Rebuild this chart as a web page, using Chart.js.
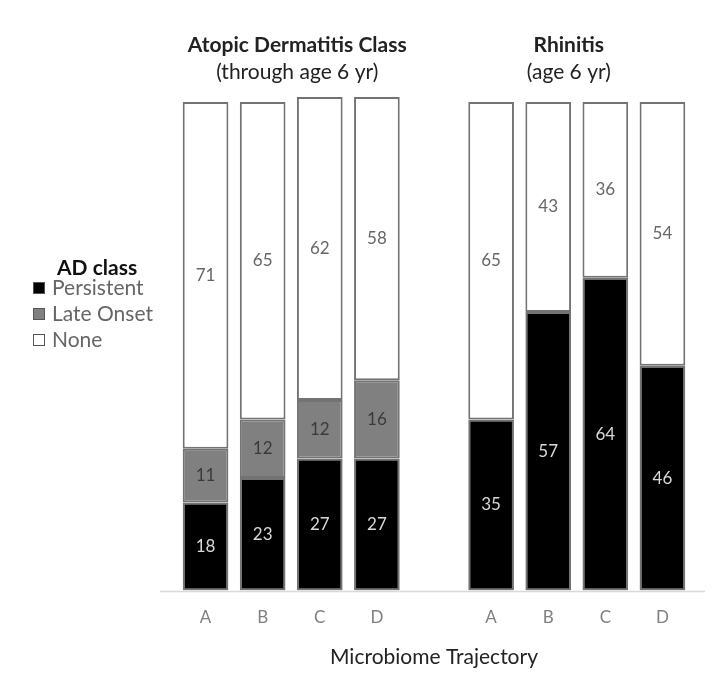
<!DOCTYPE html>
<html>
<head>
<meta charset="utf-8">
<script src="https://cdn.jsdelivr.net/npm/chart.js@4"></script>
<style>
  html, body { margin: 0; padding: 0; background: #fff; }
  #wrap { width: 723px; height: 696px; }
</style>
</head>
<body>
<div id="wrap"><canvas id="chart"></canvas></div>
<script>
// slot 4 is an empty spacer between the two panels
var categories = ['A', 'B', 'C', 'D', '', 'A', 'B', 'C', 'D'];
var persistent = [18, 23, 27, 27, null, 35, 57, 64, 46];
var lateOnset = [11, 12, 12, 16, null, null, null, null, null];
var none = [71, 65, 62, 58, null, 65, 43, 36, 54];
var legendLabels = ['Persistent', 'Late Onset', 'None'];
var panelTitles = [
    ['Atopic Dermatitis Class', '(through age 6 yr)'],
    ['Rhinitis', '(age 6 yr)']
];

var FONT = 'Lato, "Open Sans", sans-serif';
var fills = ['#000000', '#808080', '#ffffff'];
var labelColors = ['#d8d8d8', '#3a3a3a', '#666666'];

var extras = {
    id: 'extras',
    beforeDatasetsDraw: function (chart) {
        // baseline runs a little past the outer bars
        var c = chart.ctx, a = chart.chartArea;
        c.save();
        c.strokeStyle = '#d9d9d9';
        c.lineWidth = 1.5;
        c.beginPath();
        c.moveTo(a.left - 17, a.bottom + 1);
        c.lineTo(a.right + 14, a.bottom + 1);
        c.stroke();
        c.restore();
    },
    afterDatasetsDraw: function (chart) {
        var c = chart.ctx;
        c.save();
        c.textAlign = 'center';
        c.textBaseline = 'middle';
        c.font = '17px ' + FONT;
        chart.data.datasets.forEach(function (ds, di) {
            var meta = chart.getDatasetMeta(di);
            meta.data.forEach(function (bar, i) {
                var v = ds.data[i];
                if (v == null) return;
                c.fillStyle = labelColors[di];
                c.fillText(String(v), bar.x, (bar.y + bar.base) / 2);
            });
        });

        // panel titles
        var x = chart.scales.x;
        var centers = [(x.getPixelForValue(0) + x.getPixelForValue(3)) / 2 + 6,
                       (x.getPixelForValue(5) + x.getPixelForValue(8)) / 2 - 8];
        panelTitles.forEach(function (t, k) {
            c.fillStyle = '#222';
            c.font = 'bold 21px ' + FONT;
            c.fillText(t[0], centers[k], 45);
            c.font = '21px ' + FONT;
            c.fillText(t[1], centers[k], 72);
        });

        // legend
        c.textAlign = 'left';
        c.fillStyle = '#111';
        c.font = 'bold 21px ' + FONT;
        c.fillText('AD class', 57, 268);
        c.font = '21px ' + FONT;
        legendLabels.forEach(function (lab, k) {
            var y = 288 + k * 26;
            c.fillStyle = fills[k];
            c.fillRect(33, y - 6, 12, 12);
            c.strokeStyle = '#555';
            c.lineWidth = 1;
            c.strokeRect(33.5, y - 5.5, 11, 11);
            c.fillStyle = '#666';
            c.fillText(lab, 52, y);
        });
        c.restore();
    }
};

function makeSet(label, data, k) {
    return {
        label: label,
        data: data,
        backgroundColor: fills[k],
        borderColor: '#737373',
        borderWidth: 2,
        borderSkipped: false,
        categoryPercentage: 0.8,
        barPercentage: 1.0
    };
}

new Chart(document.getElementById('chart'), {
    type: 'bar',
    data: {
        labels: categories,
        datasets: [
            makeSet(legendLabels[0], persistent, 0),
            makeSet(legendLabels[1], lateOnset, 1),
            makeSet(legendLabels[2], none, 2)
        ]
    },
    options: {
        responsive: true,
        maintainAspectRatio: false,
        animation: false,
        layout: {
            padding: { left: 177, right: 32, top: 97, bottom: 26 }
        },
        plugins: {
            legend: { display: false },
            tooltip: { enabled: false }
        },
        scales: {
            x: {
                stacked: true,
                grid: { display: false, drawTicks: false },
                border: { display: false },
                ticks: {
                    padding: 17,
                    color: '#808080',
                    font: { family: FONT, size: 17 }
                },
                title: {
                    display: true,
                    text: 'Microbiome Trajectory',
                    color: '#222',
                    font: { family: FONT, size: 21 },
                    padding: { top: 0, bottom: 0 }
                }
            },
            y: {
                stacked: true,
                display: false,
                min: 0,
                max: 101
            }
        }
    },
    plugins: [extras]
});
</script>
</body>
</html>
